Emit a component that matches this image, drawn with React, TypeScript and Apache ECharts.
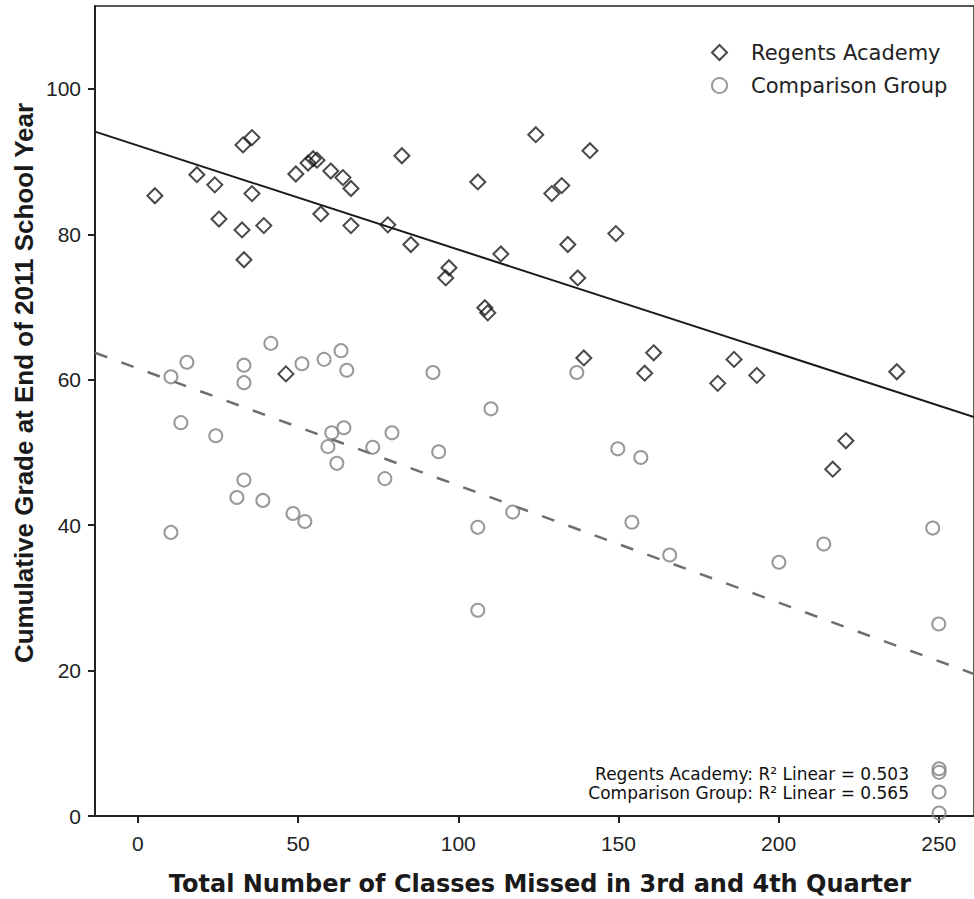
import React, { useEffect, useRef } from "react";
import * as echarts from "echarts";

// Regents Academy: classes missed (x) and cumulative grade (y)
const regentsMissed = [
  5.3, 18.4, 24.0, 25.3, 32.8, 35.6, 35.6, 32.5, 33.1, 39.3, 49.3, 53.1, 54.7, 55.9,
  57.1, 60.2, 64.0, 66.5, 66.5, 46.2, 78.0, 82.4, 85.2, 97.1, 96.1, 106.1, 108.3, 109.2,
  113.3, 124.2, 129.2, 132.3, 134.2, 141.1, 137.3, 139.2, 149.2, 158.2, 161.0, 181.0,
  186.1, 193.2, 216.9, 221.0, 236.9,
];
const regentsGrade = [
  85.3, 88.2, 86.8, 82.1, 92.3, 93.3, 85.6, 80.6, 76.5, 81.2, 88.3, 89.8, 90.4, 90.2,
  82.8, 88.7, 87.8, 86.3, 81.2, 60.8, 81.3, 90.8, 78.6, 75.4, 74.0, 87.2, 69.9, 69.2,
  77.3, 93.7, 85.6, 86.7, 78.6, 91.5, 74.0, 63.0, 80.1, 60.9, 63.7, 59.5,
  62.8, 60.6, 47.7, 51.6, 61.1,
];

// Comparison Group
const comparisonMissed = [
  41.5, 15.3, 10.3, 33.1, 33.1, 51.2, 58.1, 63.4, 65.2, 13.4, 24.3, 60.5, 64.3, 59.3,
  62.1, 73.3, 79.3, 77.1, 33.1, 30.9, 39.0, 48.4, 52.1, 10.3, 92.1, 137.0, 110.2, 93.9,
  149.8, 157.0, 117.0, 106.1, 154.2, 166.0, 106.1, 200.1, 214.1, 248.1, 250.0,
  250.1, 250.1, 250.1, 250.1,
];
const comparisonGrade = [
  65.0, 62.4, 60.4, 62.0, 59.6, 62.2, 62.8, 64.0, 61.3, 54.1, 52.3, 52.7, 53.4, 50.8,
  48.5, 50.7, 52.7, 46.4, 46.2, 43.8, 43.4, 41.6, 40.5, 39.0, 61.0, 61.0, 56.0, 50.1,
  50.5, 49.3, 41.8, 39.7, 40.4, 35.9, 28.3, 34.9, 37.4, 39.6, 26.4,
  6.5, 6.0, 3.3, 0.4,
];

// Linear fits (intercept, slope) and R²
const regentsFit = { intercept: 92.2, slope: -0.143, r2: "0.503" };
const comparisonFit = { intercept: 61.55, slope: -0.161, r2: "0.565" };

const xTicks = [0, 50, 100, 150, 200, 250];
const yTicks = [0, 20, 40, 60, 80, 100];
const X_MIN = -13.4;
const X_MAX = 261;
const Y_MIN = 0;
const Y_MAX = 111.4;

const seriesNames = ["Regents Academy", "Comparison Group"];
const xTitle = "Total Number of Classes Missed in 3rd and 4th Quarter";
const yTitle = "Cumulative Grade at End of 2011 School Year";

function zip(xs: number[], ys: number[]) {
  return xs.map((x, i) => [x, ys[i]]);
}
function fitLine(f: { intercept: number; slope: number }) {
  return [X_MIN, X_MAX].map((x) => [x, f.intercept + f.slope * x]);
}

export default function App() {
  const ref = useRef<HTMLDivElement>(null);
  useEffect(() => {
    if (!ref.current) return;
    const chart = echarts.init(ref.current, null, { renderer: "svg" });
    const tickFont = { fontFamily: "Liberation Sans, Arial, sans-serif", fontSize: 21, color: "#222" };
    chart.setOption({
      animation: false,
      backgroundColor: "#fff",
      grid: {
        left: 95,
        top: 6,
        right: -1,
        bottom: 83,
        show: true,
        borderColor: "#222",
        borderWidth: 1.5,
        backgroundColor: "transparent",
      },
      xAxis: {
        type: "value",
        min: X_MIN,
        max: X_MAX,
        splitLine: { show: false },
        axisLine: { onZero: false, lineStyle: { color: "#222", width: 2 } },
        axisTick: { show: true, length: 7, lineStyle: { color: "#222", width: 2 }, customValues: xTicks },
        axisLabel: { ...tickFont, margin: 17, customValues: xTicks },
      },
      yAxis: {
        type: "value",
        min: Y_MIN,
        max: Y_MAX,
        splitLine: { show: false },
        axisLine: { show: true, onZero: false, lineStyle: { color: "#222", width: 2 } },
        axisTick: { show: true, length: 7, lineStyle: { color: "#222", width: 2 }, customValues: yTicks },
        axisLabel: { ...tickFont, margin: 14, customValues: yTicks },
      },
      legend: {
        data: seriesNames,
        orient: "vertical",
        left: 711,
        top: 42,
        padding: 0,
        itemWidth: 15,
        itemHeight: 15,
        itemGap: 12,
        textStyle: {
          fontFamily: "DejaVu Sans, sans-serif",
          fontSize: 21,
          color: "#222",
          padding: [0, 0, 0, 19],
        },
      },
      graphic: [
        {
          type: "text",
          x: 540,
          y: 884,
          style: {
            text: xTitle,
            font: "bold 24px 'DejaVu Sans', sans-serif",
            fill: "#1a1a1a",
            align: "center",
            verticalAlign: "middle",
          },
        },
        {
          type: "text",
          x: 24,
          y: 383,
          rotation: Math.PI / 2,
          style: {
            text: yTitle,
            font: "bold 26px 'Liberation Sans', Arial, sans-serif",
            fill: "#1a1a1a",
            align: "center",
            verticalAlign: "middle",
          },
        },
        {
          type: "text",
          x: 909,
          y: 774,
          style: {
            text: `${seriesNames[0]}: R² Linear = ${regentsFit.r2}`,
            font: "17px 'DejaVu Sans', sans-serif",
            fill: "#111",
            align: "right",
            verticalAlign: "middle",
          },
        },
        {
          type: "text",
          x: 909,
          y: 793,
          style: {
            text: `${seriesNames[1]}: R² Linear = ${comparisonFit.r2}`,
            font: "17px 'DejaVu Sans', sans-serif",
            fill: "#111",
            align: "right",
            verticalAlign: "middle",
          },
        },
      ],
      series: [
        {
          name: seriesNames[0],
          type: "scatter",
          symbol: "diamond",
          symbolSize: 15,
          data: zip(regentsMissed, regentsGrade),
          itemStyle: { color: "rgba(255,255,255,0)", borderColor: "#1a1a1a", borderWidth: 2 },
          z: 3,
        },
        {
          name: seriesNames[1],
          type: "scatter",
          symbol: "circle",
          symbolSize: 13,
          data: zip(comparisonMissed, comparisonGrade),
          itemStyle: { color: "rgba(255,255,255,0)", borderColor: "#7f7f7f", borderWidth: 2 },
          z: 3,
        },
        {
          name: "Regents fit",
          type: "line",
          data: fitLine(regentsFit),
          symbol: "none",
          silent: true,
          lineStyle: { color: "#1a1a1a", width: 2 },
          z: 2,
        },
        {
          name: "Comparison fit",
          type: "line",
          data: fitLine(comparisonFit),
          symbol: "none",
          silent: true,
          lineStyle: { color: "#6e6e6e", width: 2.5, type: [13, 15] },
          z: 2,
        },
      ],
    });
    return () => chart.dispose();
  }, []);
  return (
    <div
      ref={ref}
      style={{ position: "absolute", left: 0, top: 0, width: 974, height: 899, background: "#fff" }}
    />
  );
}
